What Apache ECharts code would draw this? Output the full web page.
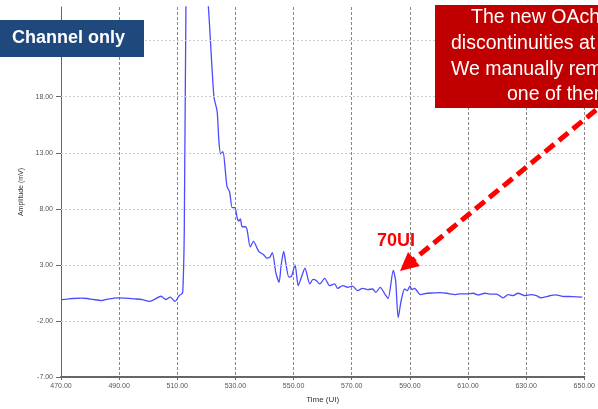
<!DOCTYPE html>
<html>
<head>
<meta charset="utf-8">
<script src="https://cdn.jsdelivr.net/npm/echarts@6/dist/echarts.min.js"></script>
<style>
  html, body { margin: 0; padding: 0; background: #fff; }
  #chart { width: 598px; height: 409px; }
</style>
</head>
<body>
<div id="chart"></div>
<script>
// time axis (UI) and amplitude (mV)
var timeUI = [
  470.3, 472, 474, 477.2, 479, 481, 484, 486, 488, 489.6, 492, 495.3, 498, 500.4, 502, 504.4, 506.1, 507.6, 509.2, 510.7, 511.5, 511.9,
  512.4, 513.0, 514, 517, 520.7, 522.6, 523.7, 524.3, 524.9, 525.7, 526.6, 527.1, 528, 528.9, 529.8, 530.6, 531.1, 531.7, 532.3,
  533.4, 534, 535.1, 536.2, 538, 539.7, 540.8, 541.9, 542.7, 543.9, 545, 545.7, 546.6, 547.3, 548.4, 549.3, 550.5, 551.6, 552.7,
  553.9, 555.6, 556.7, 557.8, 559, 560.7, 562.4, 564.1, 565.2, 566.9, 568.6, 570.3, 572, 573.7, 575.5, 577.2, 578.3, 579.8, 581.4,
  582.5, 584.3, 585.1, 586, 587, 588.2, 589.1, 590, 590.8, 591.6, 593.6, 595.9, 598.2, 600.4, 602.7, 605.6, 607.5, 609.5, 611.8,
  613.5, 615.8, 617.5, 619.8, 622.1, 623.8, 625.5, 627.2, 629.5, 631.7, 633.5, 635.1, 637.4, 640.2, 642.5, 645.9, 649.3
];
var amplitude = [
  -0.09, -0.05, 0.0, 0.03, 0.0, -0.08, -0.18, -0.05, 0.02, 0.06, 0.04, -0.03, -0.1, -0.26, -0.1, 0.2, -0.09, 0.12, -0.26, 0.27, 0.4, 0.6,
  6.0, 27.0, 44.0, 38.0, 26.0, 18.0, 16.7, 14.1, 12.9, 13.1, 11.2, 10.0, 9.5, 8.1, 8.1, 7.2, 6.9, 7.1, 6.4,
  6.4, 6.15, 4.6, 5.1, 4.2, 3.9, 3.6, 3.7, 4.1, 2.3, 1.45, 2.9, 4.2, 3.2, 1.9, 2.0, 3.0, 1.15, 1.9,
  2.7, 1.3, 1.7, 1.6, 1.3, 1.8, 1.15, 1.3, 0.9, 1.15, 1.0, 1.1, 0.7, 0.9, 0.8, 0.85, 0.55, 1.0, 0.4,
  0.0, 2.5, 1.6, -1.7, -0.2, 0.85, 0.7, 1.1, 0.8, 0.9, 0.35, 0.47, 0.5, 0.53, 0.47, 0.35, 0.42, 0.41, 0.47,
  0.32, 0.47, 0.4, 0.4, 0.06, 0.35, 0.26, 0.47, 0.26, 0.35, 0.25, 0.06, 0.2, 0.32, 0.2, 0.17, 0.12
];
// horizontal grid values (the top edge has no line)
var yGrid = [-2, 3, 8, 13, 18, 23];
var noteLines = ['The new OAch-4', 'discontinuities at', 'We manually removed', 'one of them.'];

var chart = echarts.init(document.getElementById('chart'));
var pts = timeUI.map(function (t, i) { return [t, amplitude[i]]; });
var txtFont = '"Liberation Sans", Arial, sans-serif';

var noteX = [471, 451, 451, 507];
var noteY = [18, 44, 70, 95];
var graphics = [
  { type: 'rect', z: 100, shape: { x: 0, y: 20, width: 144, height: 37 }, style: { fill: '#1F497D' } },
  { type: 'text', z: 101, x: 12, y: 38.5, style: { text: 'Channel only', fill: '#fff', font: 'bold 18px ' + txtFont, textVerticalAlign: 'middle' } },
  { type: 'rect', z: 100, shape: { x: 435, y: 5, width: 170, height: 103 }, style: { fill: '#C00000' } },
  { type: 'text', z: 101, x: 377, y: 241, style: { text: '70UI', fill: '#FF0000', font: 'bold 18px ' + txtFont, textVerticalAlign: 'middle' } },
  // dashed arrow
  { type: 'line', z: 100, shape: { x1: 596, y1: 110, x2: 412, y2: 261 }, style: { stroke: '#FF0000', lineWidth: 5, lineDash: [12, 6] } },
  { type: 'polygon', z: 100, shape: { points: [[400, 271], [408, 252], [420, 266]] }, style: { fill: '#FF0000' } }
];
noteLines.forEach(function (s, i) {
  graphics.push({ type: 'text', z: 101, x: noteX[i], y: noteY[i],
    style: { text: s, fill: '#fff', font: '19.5px ' + txtFont, textVerticalAlign: 'middle' } });
});

var option = {
  animation: false,
  grid: { left: 61, right: 11, top: 7, bottom: 30 },
  xAxis: {
    type: 'value', min: 470, max: 650, interval: 20,
    name: 'Time (UI)', nameLocation: 'middle', nameGap: 19,
    nameTextStyle: { fontSize: 8, color: '#333', fontFamily: txtFont },
    axisLine: { onZero: false, lineStyle: { color: '#666', width: 2 } },
    axisTick: { show: true, length: 3, lineStyle: { color: '#666' } },
    axisLabel: { fontSize: 7, color: '#555', margin: 6, fontFamily: txtFont,
      formatter: function (v) { return v.toFixed(2); } },
    splitLine: { show: true, lineStyle: { color: '#888', type: [3, 2], width: 1 } }
  },
  yAxis: {
    type: 'value', min: -7, max: 26, interval: 5,
    name: 'Amplitude (mV)', nameLocation: 'middle', nameGap: 36,
    nameTextStyle: { fontSize: 7, color: '#333', fontFamily: txtFont },
    axisLine: { show: true, onZero: false, lineStyle: { color: '#666', width: 1 } },
    axisTick: { show: true, length: 5, lineStyle: { color: '#666' } },
    axisLabel: { fontSize: 7, color: '#555', margin: 8, fontFamily: txtFont, showMaxLabel: false,
      formatter: function (v) { return v.toFixed(2); } },
    splitLine: { show: false }
  },
  series: [{
    type: 'line', data: pts, showSymbol: false, smooth: 0.25, clip: true,
    lineStyle: { color: '#4b4bff', width: 1.3 },
    markLine: {
      silent: true, symbol: 'none', label: { show: false },
      lineStyle: { color: '#ccc', type: [2, 2], width: 1 },
      data: yGrid.map(function (v) { return { yAxis: v }; })
    },
    z: 3
  }],
  graphic: graphics
};
chart.setOption(option);
</script>
</body>
</html>
